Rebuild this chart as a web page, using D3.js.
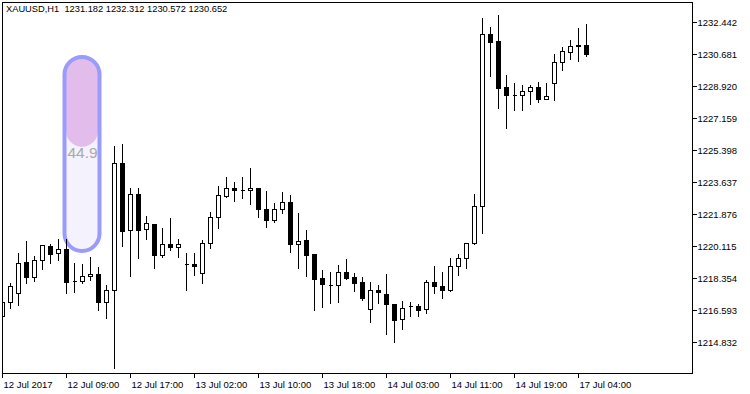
<!DOCTYPE html>
<html>
<head>
<meta charset="utf-8">
<script src="https://cdn.jsdelivr.net/npm/d3@7"></script>
<style>
  html, body { margin: 0; padding: 0; background: #fff; }
  svg { display: block; font-family: "Liberation Sans", Arial, sans-serif; }
</style>
</head>
<body>
<svg id="chart" width="750" height="394"></svg>
<script>
// XAUUSD H1 bars, 12 Jul 01:00 .. 17 Jul 05:00
const opens = [
  1216.251, 1217.038, 1217.534, 1219.208, 1218.415, 1219.318, 1220.106, 1219.704, 1219.941, 1218.178,
  1218.162, 1218.437, 1218.564, 1217.038, 1217.666, 1224.660, 1220.970, 1222.969, 1221.025, 1221.301,
  1219.610, 1220.199, 1220.067, 1219.098, 1219.115, 1218.635, 1220.254, 1221.719, 1222.876, 1223.283,
  1223.190, 1223.173, 1223.283, 1222.127, 1221.521, 1222.127, 1222.512, 1220.216, 1220.420, 1219.649,
  1218.327, 1217.975, 1217.942, 1218.657, 1218.382, 1218.107, 1216.620, 1217.666, 1217.462, 1216.895,
  1216.069, 1216.785, 1216.785, 1216.620, 1218.107, 1217.886, 1217.699, 1218.988, 1219.445, 1220.254,
  1222.292, 1231.781, 1231.395, 1228.845, 1228.405, 1228.405, 1228.625, 1228.845, 1228.218, 1229.066,
  1230.222, 1230.773, 1231.103, 1231.182
];
const highs = [
  1217.242, 1218.052, 1219.704, 1220.398, 1219.555, 1220.177, 1220.216, 1220.475, 1220.508, 1219.153,
  1219.115, 1219.517, 1218.966, 1217.958, 1225.629, 1225.723, 1223.283, 1223.283, 1221.741, 1221.320,
  1221.114, 1221.648, 1220.491, 1219.704, 1219.704, 1220.436, 1221.978, 1223.427, 1223.889, 1223.630,
  1223.933, 1224.385, 1223.316, 1223.135, 1222.457, 1223.063, 1222.898, 1221.907, 1220.970, 1219.660,
  1218.768, 1218.657, 1219.043, 1219.373, 1218.602, 1218.415, 1218.107, 1217.942, 1218.564, 1216.910,
  1217.060, 1217.038, 1216.912, 1218.217, 1219.021, 1218.674, 1219.428, 1219.665, 1220.270, 1222.969,
  1232.662, 1232.166, 1232.827, 1229.506, 1229.066, 1228.956, 1228.956, 1229.121, 1229.066, 1230.663,
  1231.065, 1231.434, 1232.111, 1232.312
];
const lows = [
  1216.141, 1216.675, 1216.857, 1218.052, 1218.178, 1218.839, 1219.186, 1219.318, 1217.534, 1217.589,
  1218.052, 1218.233, 1216.581, 1216.157, 1213.404, 1220.106, 1218.454, 1219.445, 1220.491, 1218.911,
  1219.484, 1219.902, 1219.517, 1217.683, 1218.492, 1218.085, 1220.012, 1221.081, 1222.821, 1222.584,
  1222.766, 1222.402, 1221.719, 1221.169, 1221.444, 1221.923, 1219.759, 1218.878, 1218.454, 1216.565,
  1216.730, 1216.950, 1217.005, 1218.272, 1217.644, 1217.116, 1215.904, 1216.950, 1215.243, 1214.803,
  1215.518, 1216.268, 1216.268, 1216.400, 1217.534, 1217.259, 1217.644, 1218.509, 1218.867, 1220.240,
  1220.805, 1229.484, 1227.722, 1226.621, 1227.612, 1227.612, 1227.942, 1228.052, 1228.210, 1228.163,
  1229.815, 1230.420, 1230.310, 1230.572
];
const closes = [
  1217.022, 1217.903, 1219.153, 1218.415, 1219.318, 1220.144, 1219.682, 1219.924, 1218.140, 1218.178,
  1218.454, 1218.564, 1217.038, 1217.666, 1224.660, 1220.948, 1222.969, 1221.003, 1221.356, 1219.627,
  1220.199, 1220.067, 1220.199, 1219.098, 1219.021, 1220.254, 1221.719, 1222.898, 1223.283, 1223.173,
  1223.190, 1223.283, 1222.127, 1221.521, 1222.127, 1222.512, 1220.199, 1220.365, 1219.627, 1218.305,
  1217.997, 1217.975, 1218.657, 1218.360, 1218.085, 1217.259, 1217.666, 1217.589, 1216.895, 1216.014,
  1216.708, 1216.785, 1216.598, 1218.107, 1217.886, 1217.699, 1218.988, 1219.445, 1220.254, 1222.292,
  1231.781, 1231.357, 1228.823, 1228.438, 1228.405, 1228.625, 1228.845, 1228.218, 1228.350, 1230.222,
  1230.828, 1231.103, 1231.182, 1230.652
];

const timeLabels = ["12 Jul 2017", "12 Jul 09:00", "12 Jul 17:00", "13 Jul 02:00", "13 Jul 10:00",
                    "13 Jul 18:00", "14 Jul 03:00", "14 Jul 11:00", "14 Jul 19:00", "17 Jul 04:00"];
const timeLabelBars = [0, 8, 16, 24, 32, 40, 48, 56, 64, 72];
const priceTicks = ["1232.442", "1230.681", "1228.920", "1227.159", "1225.398", "1223.637",
                    "1221.876", "1220.115", "1218.354", "1216.593", "1214.832"];

const symbolTitle = "XAUUSD,H1";
const gaugeValue = 44.9;

const W = 750, H = 394;
const plot = { left: 2, top: 2, right: 692, bottom: 373 };

const svg = d3.select("#chart");
svg.append("rect").attr("width", W).attr("height", H).attr("fill", "#fff");

svg.append("defs").append("clipPath").attr("id", "plotClip")
  .append("rect")
  .attr("x", plot.left).attr("y", plot.top)
  .attr("width", plot.right - plot.left).attr("height", plot.bottom - plot.top);

// one bar every 8 px, bar 0 sits on the left frame
const x = d3.scaleLinear().domain([0, 86.25]).range([plot.left, plot.right]);
const y = d3.scaleLinear().domain([1213.112, 1233.543]).range([plot.bottom, plot.top]);

const px = v => Math.round(v) + 0.5;

// gauge pill (drawn under the candles)
const pill = { x: 64.5, y: 57, w: 35, h: 194 };
const gaugeY = d3.scaleLinear().domain([0, 100]).range([pill.y, pill.y + pill.h + 6]);
const gauge = svg.append("g");
gauge.append("rect")
  .attr("x", pill.x).attr("y", pill.y).attr("width", pill.w).attr("height", pill.h)
  .attr("rx", pill.w / 2).attr("fill", "#f4f3fd");
gauge.append("rect")
  .attr("x", pill.x + 1.5).attr("y", pill.y)
  .attr("width", pill.w - 3).attr("height", gaugeY(gaugeValue) - pill.y)
  .attr("rx", (pill.w - 3) / 2).attr("fill", "#e2bdec");
gauge.append("rect")
  .attr("x", pill.x).attr("y", pill.y).attr("width", pill.w).attr("height", pill.h)
  .attr("rx", pill.w / 2).attr("fill", "none")
  .attr("stroke", "#9b9bfb").attr("stroke-width", 4);
gauge.append("text")
  .attr("x", pill.x + pill.w / 2 + 0.5).attr("y", gaugeY(gaugeValue) + 11.5)
  .attr("text-anchor", "middle")
  .attr("font-size", 15.5).attr("fill", "#a9a9a9")
  .text(gaugeValue.toFixed(1));

// candles
const bars = d3.range(opens.length).map(i => ({
  i, o: opens[i], h: highs[i], l: lows[i], c: closes[i]
}));

const candles = svg.append("g")
  .attr("clip-path", "url(#plotClip)")
  .attr("shape-rendering", "crispEdges");
candles.selectAll("line.wick")
  .data(bars).enter().append("line")
  .attr("class", "wick")
  .attr("x1", d => px(x(d.i))).attr("x2", d => px(x(d.i)))
  .attr("y1", d => Math.round(y(d.h))).attr("y2", d => Math.round(y(d.l)) + 1)
  .attr("stroke", "#000");

candles.selectAll("path.body")
  .data(bars).enter().append("path")
  .attr("class", "body")
  .attr("d", d => {
    const cx = Math.round(x(d.i));
    const yt = Math.round(y(Math.max(d.o, d.c))) + 0.5;
    const yb = Math.round(y(Math.min(d.o, d.c))) + 0.5;
    return `M${cx - 1.5},${yt}H${cx + 2.5}V${yb}H${cx - 1.5}Z`;
  })
  .attr("fill", d => (d.c < d.o ? "#000" : "#fff"))
  .attr("stroke", "#000");

// frame
svg.append("rect")
  .attr("x", plot.left + 0.5).attr("y", plot.top + 0.5)
  .attr("width", plot.right - plot.left).attr("height", plot.bottom - plot.top)
  .attr("fill", "none").attr("stroke", "#000").attr("shape-rendering", "crispEdges");

// price axis
const yAxis = d3.axisRight(y)
  .tickValues(priceTicks.map(Number))
  .tickFormat((d, i) => priceTicks[i])
  .tickSize(4).tickPadding(1);
const gy = svg.append("g")
  .attr("transform", `translate(${plot.right + 0.5},0)`)
  .call(yAxis);
gy.select(".domain").remove();
gy.selectAll(".tick").attr("transform", d => `translate(0,${px(y(d))})`);
gy.selectAll(".tick line").attr("stroke", "#000").attr("shape-rendering", "crispEdges");
gy.selectAll(".tick text")
  .attr("font-family", "Liberation Sans, Arial, sans-serif")
  .attr("font-size", 9.5).attr("fill", "#000").attr("dy", "0.34em");

// time axis
const xAxis = d3.axisBottom(x)
  .tickValues(timeLabelBars)
  .tickFormat((d, i) => timeLabels[i])
  .tickSize(4).tickPadding(4);
const gx = svg.append("g")
  .attr("transform", `translate(0,${plot.bottom + 0.5})`)
  .call(xAxis);
gx.select(".domain").remove();
gx.selectAll(".tick").attr("transform", d => `translate(${px(x(d))},0)`);
gx.selectAll(".tick line").attr("stroke", "#000").attr("shape-rendering", "crispEdges");
gx.selectAll(".tick text")
  .attr("font-family", "Liberation Sans, Arial, sans-serif")
  .attr("font-size", 9.5).attr("fill", "#000")
  .attr("text-anchor", "start").attr("x", 1);

// header
svg.append("text")
  .attr("x", 6).attr("y", 11.5)
  .attr("font-size", 9.3).attr("fill", "#000")
  .style("white-space", "pre")
  .text(`${symbolTitle}  ${[opens, highs, lows, closes].map(a => a[a.length - 1].toFixed(3)).join(" ")}`);
</script>
</body>
</html>
